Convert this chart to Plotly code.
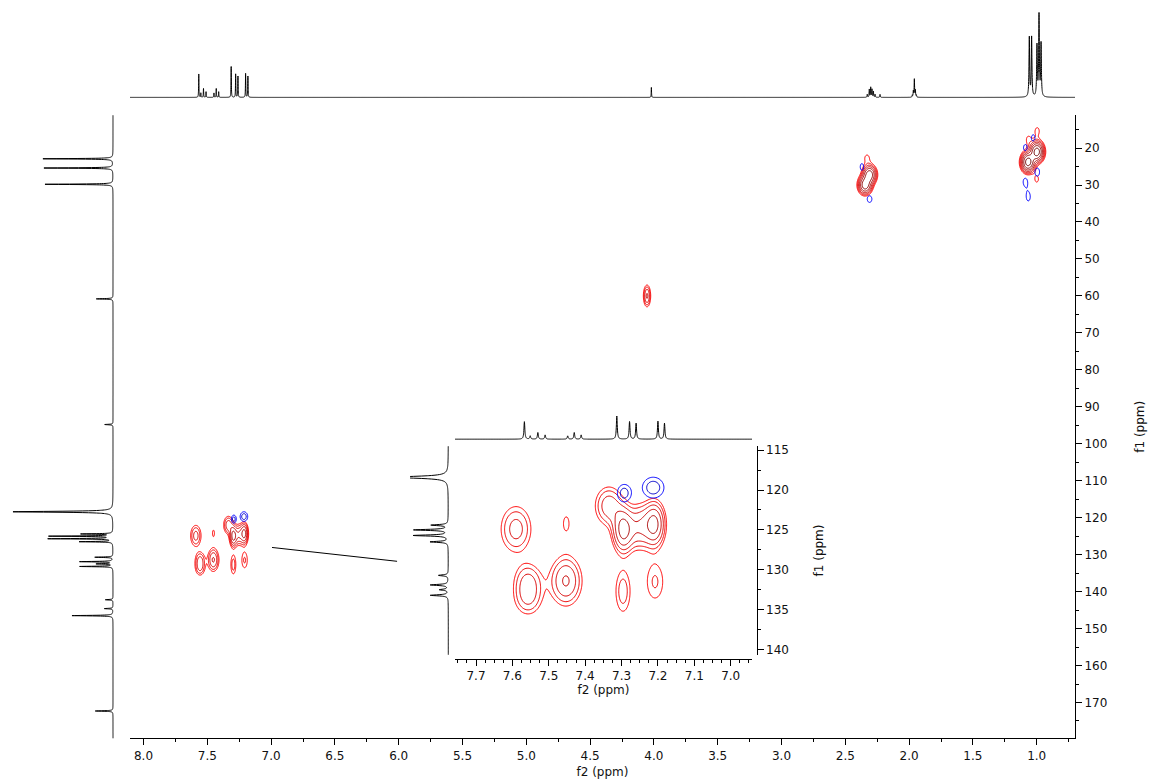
import numpy as np
import plotly.graph_objects as go

W, H = 1151, 782

# ---------------- 1H projection (f2) ----------------
h1_ppm = [7.567, 7.551, 7.530, 7.510, 7.448, 7.430, 7.411, 7.313, 7.278, 7.260, 7.200, 7.182,
          4.020,
          2.328, 2.312, 2.301, 2.291, 2.280, 2.267, 2.228,
          1.975, 1.967, 1.959, 1.951, 1.943,
          1.058, 1.040, 0.998, 0.982, 0.966]
h1_int = [23.5, 4.4, 8.9, 5.7, 4.4, 8.9, 5.7, 31.0, 23.5, 21.3, 24.0, 21.3,
          10.0,
          3.0, 8.0, 10.0, 8.0, 6.0, 3.0, 3.0,
          2.0, 6.0, 18.0, 7.0, 2.0,
          59.7, 59.7, 51.0, 81.7, 53.0]
h1_lw = [0.0015] * 12 + [0.0015] + [0.002] * 7 + [0.002] * 5 + [0.003] * 5

# ---------------- 13C projection (f1) ----------------
c13_ppm = [22.9, 25.4, 29.8, 60.8, 94.8, 118.4, 124.4, 125.0, 125.7, 126.5,
           130.7, 131.9, 132.5, 133.2, 142.2, 144.6, 146.5, 172.3]
c13_int = [70, 69, 68, 16.7, 8.3, 100, 31, 63, 64, 33,
           18, 33, 16, 33, 7.7, 8.7, 41, 17.7]
c13_lw = [0.08] * 5 + [0.15] + [0.08] * 12

# ---------------- HSQC cross peaks ----------------
cross_f2 = [7.590, 7.452, 7.295, 7.210, 7.250, 7.335, 7.293, 7.213, 7.557, 7.557, 7.453, 7.296, 7.208,
            4.054,
            2.310, 2.345, 2.370, 2.310, 2.330,
            1.068, 0.998, 0.996, 1.066, 1.027, 1.090, 0.996, 1.000, 1.090, 1.066]
cross_f1 = [124.9, 124.2, 125.0, 124.3, 124.6, 122.0, 120.4, 119.7, 131.3, 133.6, 131.4, 132.7, 131.5,
            60.0,
            27.2, 30.0, 25.1, 33.8, 22.7,
            23.8, 21.0, 15.4, 17.7, 17.2, 19.9, 26.5, 28.4, 29.1, 33.2]
cross_amp = [2.7, 1.1, 6.0, 5.8, 3.0, 3.0, -1.8, -1.9, 2.2, 2.2, 3.55, 1.9, 1.6,
             3.6,
             10.0, 10.0, -1.15, -1.2, 1.15,
             14.0, 14.0, 1.2, 1.15, -1.15, -1.15, -1.3, 1.15, -1.2, -1.2]
cross_sf2 = [0.029, 0.017, 0.018, 0.018, 0.020, 0.025, 0.017, 0.026, 0.026, 0.026, 0.028, 0.017, 0.0217,
             0.018,
             0.030, 0.030, 0.025, 0.030, 0.030,
             0.030, 0.030, 0.025, 0.025, 0.025, 0.025, 0.025, 0.025, 0.025, 0.025]
cross_sf1 = [2.0, 1.9, 1.7, 1.7, 1.8, 1.6, 1.0, 1.15, 1.5, 1.5, 1.98, 2.2, 2.1,
             1.84,
             1.4, 1.4, 1.7, 1.5, 1.5,
             1.5, 1.5, 1.5, 1.5, 1.5, 1.5, 1.5, 1.5, 1.5, 1.8]

LEVEL_RATIO = 1.5


def lorentz(grid, pos, hts, lws):
    s = np.zeros_like(grid)
    for p, h, w in zip(pos, hts, lws):
        s += h * w ** 2 / ((grid - p) ** 2 + w ** 2)
    return s


def spec_grid(lo, hi, step, pos, lws):
    parts = [np.arange(lo, hi, step)]
    for p, w in zip(pos, lws):
        parts.append(np.linspace(p - 12 * w, p + 12 * w, 97))
    return np.unique(np.concatenate(parts))


def field(xg, yg, sign):
    X, Y = np.meshgrid(xg, yg)
    Z = np.zeros_like(X)
    for f2, f1, a, s2, s1 in zip(cross_f2, cross_f1, cross_amp, cross_sf2, cross_sf1):
        if a * sign > 0:
            Z += abs(a) * np.exp(-((X - f2) ** 2 / (2 * s2 ** 2) + (Y - f1) ** 2 / (2 * s1 ** 2)))
    return np.log(np.maximum(Z, 1e-6)) / np.log(LEVEL_RATIO)


RED = [[0, "rgb(255,0,0)"], [0.5, "rgb(200,0,0)"], [1, "rgb(110,0,0)"]]
BLUE = [[0, "rgb(0,0,255)"], [1, "rgb(0,0,150)"]]


def contour_pair(xg, yg, xa, ya):
    out = []
    for sign, cs, zmax in ((1, RED, 6), (-1, BLUE, 2)):
        out.append(go.Contour(
            x=xg, y=yg, z=field(xg, yg, sign), xaxis=xa, yaxis=ya,
            contours=dict(start=0, end=14, size=1, coloring="lines"),
            colorscale=cs, zauto=False, zmin=0, zmax=zmax,
            line=dict(width=1, smoothing=1), showscale=False, hoverinfo="skip"))
    return out


fig = go.Figure()

# main 2D contours (local grids around each cluster)
for x0, x1, y0, y1 in [(7.10, 7.70, 115, 140), (3.98, 4.13, 52, 68),
                       (2.20, 2.46, 19, 38), (0.88, 1.20, 12, 37)]:
    xg = np.arange(x0, x1, 0.004)
    yg = np.arange(y0, y1, 0.2)
    for t in contour_pair(xg, yg, "x", "y"):
        fig.add_trace(t)

# 1D projections
hgrid = spec_grid(0.68, 8.12, 0.002, h1_ppm, h1_lw)
hspec = lorentz(hgrid, h1_ppm, h1_int, h1_lw)
cgrid = spec_grid(10.5, 180.5, 0.1, c13_ppm, c13_lw)
cspec = lorentz(cgrid, c13_ppm, c13_int, c13_lw)

line_style = dict(color="black", width=1, simplify=False)
fig.add_trace(go.Scatter(x=hgrid, y=hspec, mode="lines", line=line_style,
                         xaxis="x2", yaxis="y2", hoverinfo="skip"))
fig.add_trace(go.Scatter(x=cspec, y=cgrid, mode="lines", line=line_style,
                         xaxis="x3", yaxis="y3", hoverinfo="skip"))

# inset
xgi = np.arange(6.95, 7.76, 0.0025)
ygi = np.arange(114.4, 140.8, 0.1)
for t in contour_pair(xgi, ygi, "x4", "y4"):
    fig.add_trace(t)
fig.add_trace(go.Scatter(x=hgrid, y=hspec, mode="lines", line=line_style,
                         xaxis="x5", yaxis="y5", hoverinfo="skip"))
fig.add_trace(go.Scatter(x=cspec, y=cgrid, mode="lines", line=line_style,
                         xaxis="x6", yaxis="y6", hoverinfo="skip"))


def dx(p):
    return p / W


def dy(p):
    return 1 - p / H


FONT = "DejaVu Sans"
tickfont = dict(family=FONT, size=12, color="#111")
hidden = dict(visible=False, showgrid=False, zeroline=False, fixedrange=True)

main_xr = [8.106, 0.70]
main_yr = [179.68, 11.13]
ins_xr = [7.7577, 6.9415]
ins_yr = [140.66, 114.5]

fig.update_layout(
    width=W, height=H, margin=dict(l=0, r=0, t=0, b=0),
    paper_bgcolor="white", plot_bgcolor="rgba(0,0,0,0)", showlegend=False,
    font=dict(family=FONT, size=12, color="#111"),
    xaxis=dict(domain=[dx(130), dx(1075)], range=main_xr, anchor="y",
               showline=True, linecolor="black", linewidth=1, showgrid=False, zeroline=False,
               ticks="outside", ticklen=6, tickcolor="black", tick0=0, dtick=0.5, tickformat=".1f",
               tickfont=tickfont,
               minor=dict(dtick=0.25, ticks="outside", ticklen=3, tickcolor="black"),
               title=dict(text="f2 (ppm)", font=dict(family=FONT, size=12), standoff=5)),
    yaxis=dict(domain=[dy(740), dy(113)], range=main_yr, anchor="x", side="right",
               showline=True, linecolor="black", linewidth=1, showgrid=False, zeroline=False,
               ticks="outside", ticklen=6, tickcolor="black", tick0=0, dtick=10,
               tickfont=tickfont,
               minor=dict(dtick=5, ticks="outside", ticklen=3, tickcolor="black"),
               title=dict(text="f1 (ppm)", font=dict(family=FONT, size=12), standoff=29)),
    xaxis2=dict(domain=[dx(130), dx(1075)], range=main_xr, anchor="y2", **hidden),
    yaxis2=dict(domain=[dy(97), dy(8)], range=[-2, 87], anchor="x2", **hidden),
    xaxis3=dict(domain=[0, dx(115)], range=[113, -2], anchor="y3", **hidden),
    yaxis3=dict(domain=[dy(740), dy(113)], range=main_yr, anchor="x3", **hidden),
    xaxis4=dict(domain=[dx(455), dx(752)], range=ins_xr, anchor="free", position=dy(660),
                showline=True, linecolor="black", linewidth=1, showgrid=False, zeroline=False,
                ticks="outside", ticklen=6, tickcolor="black", tick0=0, dtick=0.1, tickformat=".1f",
                tickfont=tickfont,
                minor=dict(dtick=0.025, ticks="outside", ticklen=3, tickcolor="black"),
                title=dict(text="f2 (ppm)", font=dict(family=FONT, size=12), standoff=2)),
    yaxis4=dict(domain=[dy(656), dy(446)], range=ins_yr, anchor="free", position=dx(756.7),
                side="right",
                showline=True, linecolor="black", linewidth=1, showgrid=False, zeroline=False,
                ticks="outside", ticklen=6, tickcolor="black", tick0=0, dtick=5,
                tickfont=tickfont,
                minor=dict(dtick=2.5, ticks="outside", ticklen=3, tickcolor="black"),
                title=dict(text="f1 (ppm)", font=dict(family=FONT, size=12), standoff=26)),
    xaxis5=dict(domain=[dx(455), dx(752)], range=ins_xr, anchor="y5", **hidden),
    yaxis5=dict(domain=[dy(441), dy(412)], range=[-2.67, 36], anchor="x5", **hidden),
    xaxis6=dict(domain=[dx(410), dx(450)], range=[70.9, -3.1], anchor="y6", **hidden),
    yaxis6=dict(domain=[dy(656), dy(446)], range=ins_yr, anchor="x6", **hidden),
)

# connector from the aromatic region of the main plot to the inset
fig.add_shape(type="line", xref="x", yref="y", x0=6.993, y0=128.06, x1=6.013, y1=131.8,
              line=dict(color="black", width=1))

fig.write_html("out.html")
